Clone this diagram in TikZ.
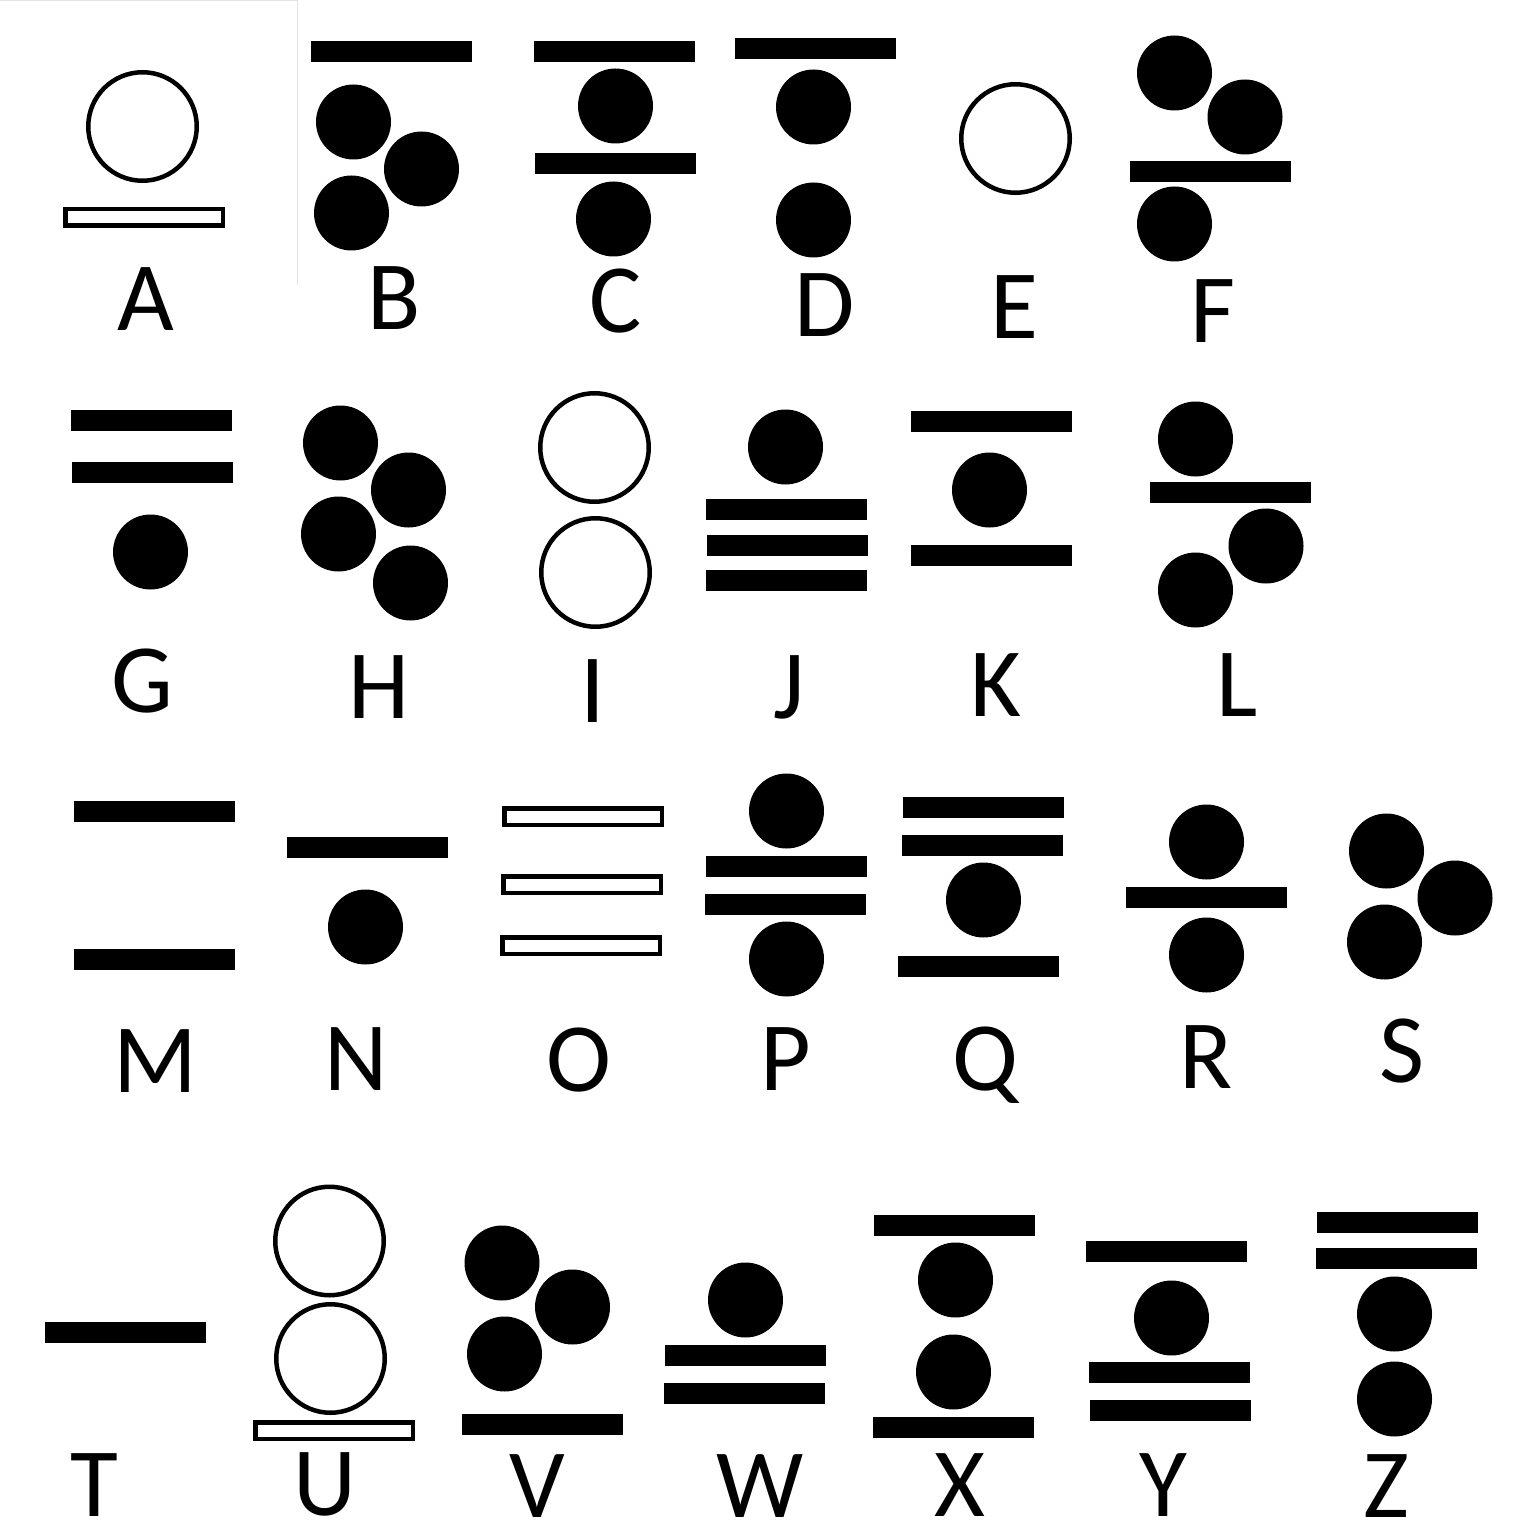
\documentclass[tikz,border=0pt]{standalone}
\usepackage{fontspec}
\setmainfont{Carlito}
\usepackage{tikz}
\usetikzlibrary{positioning}

\def\rdot{37.5}
\def\rring{54.25}

\begin{document}
\begin{tikzpicture}[x=1pt, y=-1pt,
    dot/.style={fill=black},
    ring/.style={draw=black, line width=4.5pt},
    barbox/.style={fill=black},
    obar/.style={draw=black, line width=4.5pt},
    lbl/.style={font=\fontsize{98}{98}\selectfont, anchor=base, inner sep=0pt}]
  \useasboundingbox[fill=white] (0,0) rectangle (1540,1538);
  % faint frame at the top left
  \draw[black!10, line width=1pt] (0,0.5) -- (297,0.5) -- (297,285);

  % filled bars (top left corner)
  \foreach \x/\y in {311/41, 534/41, 535/153, 735/38, 1130/161,
                     71/410, 72/462, 706/499, 707/535, 706/570, 911/411, 911/545, 1150/482,
                     74/801, 74/949, 287/837, 706/856, 705/894, 903/797, 902/835, 898/956, 1126/887,
                     45/1322, 462/1414, 665/1345, 664/1383, 874/1215, 873/1417,
                     1086/1241, 1089/1362, 1090/1400, 1317/1212, 1316/1248}
    \fill[barbox] (\x,\y) rectangle +(161,21);

  % open bars
  \foreach \x/\y in {63/207, 502/806, 501/874, 500/935, 253/1420}
    \draw[obar] (\x+2.25,\y+2.25) rectangle +(157.5,16.5);

  % dots
  \foreach \x/\y in {353.5/122, 421.5/169, 351.5/213, 615.5/106, 613.5/219, 813.5/107, 813.5/220,
                     1174.5/73, 1245/117, 1174.5/224,
                     150.5/552, 340.5/443, 408.5/490, 338.5/534, 410.5/583, 785.5/447, 989.5/490,
                     1195.5/439, 1266/546, 1195.5/590,
                     365.5/927, 786.5/811, 786.5/959, 983.5/900, 1206.5/842, 1206.5/955,
                     1386.5/851, 1455/898, 1384.5/942,
                     502/1263, 572.5/1307, 504.5/1354, 745.5/1300, 955.5/1280, 953.5/1372,
                     1171.5/1318, 1394.5/1314, 1394.5/1399}
    \fill[dot] (\x,\y) circle[radius=\rdot];

  % rings
  \foreach \x/\y in {142.5/126.5, 1015.5/138.5, 594.5/447.5, 595.5/572.5, 329.5/1241, 330.5/1358.5}
    \draw[ring] (\x,\y) circle[radius=\rring];

  % letters
  \foreach \n/\x/\y in {A/145.5/331, B/394/330, C/616/333, D/824.5/337, E/1014/339, F/1213/343,
                        G/142.5/712, H/379/718, I/593/722, J/789/718, K/995.5/716, L/1237.5/716,
                        M/155.5/1092, N/356/1090, O/579/1091, P/785.5/1090, Q/985/1090, R/1206/1088, S/1402/1082,
                        T/94.5/1516, U/325/1515, V/537.5/1517, W/760.5/1517, X/960/1516, Y/1163/1516, Z/1386/1517}
    \node[lbl] (\n) at (\x,\y) {\n};
\end{tikzpicture}
\end{document}
